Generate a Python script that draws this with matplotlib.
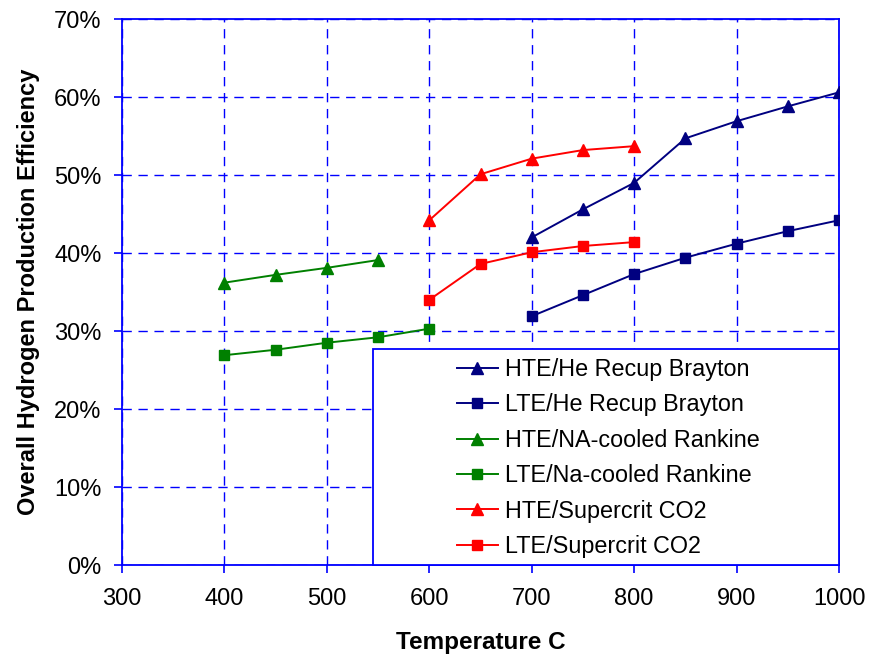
import matplotlib
matplotlib.use("Agg")
import matplotlib.pyplot as plt
from matplotlib.patches import Rectangle
from matplotlib.ticker import FuncFormatter

plt.rcParams["font.family"] = ["Liberation Sans", "DejaVu Sans"]

# Data (efficiency in %)
temp_he = [700, 750, 800, 850, 900, 950, 1000]
hte_he = [42.0, 45.6, 49.0, 54.7, 56.9, 58.8, 60.6]
lte_he = [31.9, 34.6, 37.3, 39.4, 41.2, 42.8, 44.2]

temp_na_hte = [400, 450, 500, 550]
hte_na = [36.2, 37.2, 38.1, 39.1]
temp_na_lte = [400, 450, 500, 550, 600]
lte_na = [26.9, 27.6, 28.5, 29.2, 30.3]

temp_co2 = [600, 650, 700, 750, 800]
hte_co2 = [44.2, 50.1, 52.1, 53.2, 53.7]
lte_co2 = [34.0, 38.6, 40.1, 40.9, 41.4]

labels = ["HTE/He Recup Brayton", "LTE/He Recup Brayton",
          "HTE/NA-cooled Rankine", "LTE/Na-cooled Rankine",
          "HTE/Supercrit CO2", "LTE/Supercrit CO2"]

navy = "#000080"
green = "#008000"
red = "#FF0000"
blue = "#0000FF"

fig = plt.figure(figsize=(8.69, 6.56), dpi=100)
ax = fig.add_axes([0.1404, 0.1387, 0.8251, 0.8323])

series = [
    (temp_he, hte_he, navy, "^"),
    (temp_he, lte_he, navy, "s"),
    (temp_na_hte, hte_na, green, "^"),
    (temp_na_lte, lte_na, green, "s"),
    (temp_co2, hte_co2, red, "^"),
    (temp_co2, lte_co2, red, "s"),
]
for (x, y, c, m), lab in zip(series, labels):
    ms = 8 if m == "^" else 6.5
    ax.plot(x, y, color=c, marker=m, markersize=ms, linewidth=1.4, label=lab, zorder=3)

ax.set_xlim(300, 1000)
ax.set_ylim(0, 70)
ax.set_xticks(range(300, 1001, 100))
ax.set_yticks(range(0, 71, 10))
ax.yaxis.set_major_formatter(FuncFormatter(lambda v, p: "{:d}%".format(int(v))))
ax.tick_params(labelsize=17, color=blue, length=5.8, width=1.2, direction="out")
ax.tick_params(axis="x", pad=11)
ax.tick_params(axis="y", pad=9)

ax.grid(True, color=blue, linestyle=(0, (6.7, 4.8)), linewidth=1.0)
for s in ax.spines.values():
    s.set_color(blue)
    s.set_linewidth(1.3)

ax.set_xlabel("Temperature C", fontsize=17.5, fontweight="bold", labelpad=15)
ax.set_ylabel("Overall Hydrogen Production Efficiency", fontsize=17, fontweight="bold", labelpad=10)

# legend box (white, blue border) sitting in the lower right corner
box = Rectangle((0.350, 0.0), 0.650, 0.3956, transform=ax.transAxes,
                facecolor="white", edgecolor=blue, linewidth=1.3, zorder=4, clip_on=False)
ax.add_patch(box)

leg = ax.legend(loc="upper left", bbox_to_anchor=(0.467, 0.379), borderaxespad=0,
                borderpad=0, fontsize=16.8, frameon=False, handlelength=1.76,
                handletextpad=0.3, labelspacing=0.53)
leg.set_zorder(5)

fig.savefig("out.png", dpi=100)
